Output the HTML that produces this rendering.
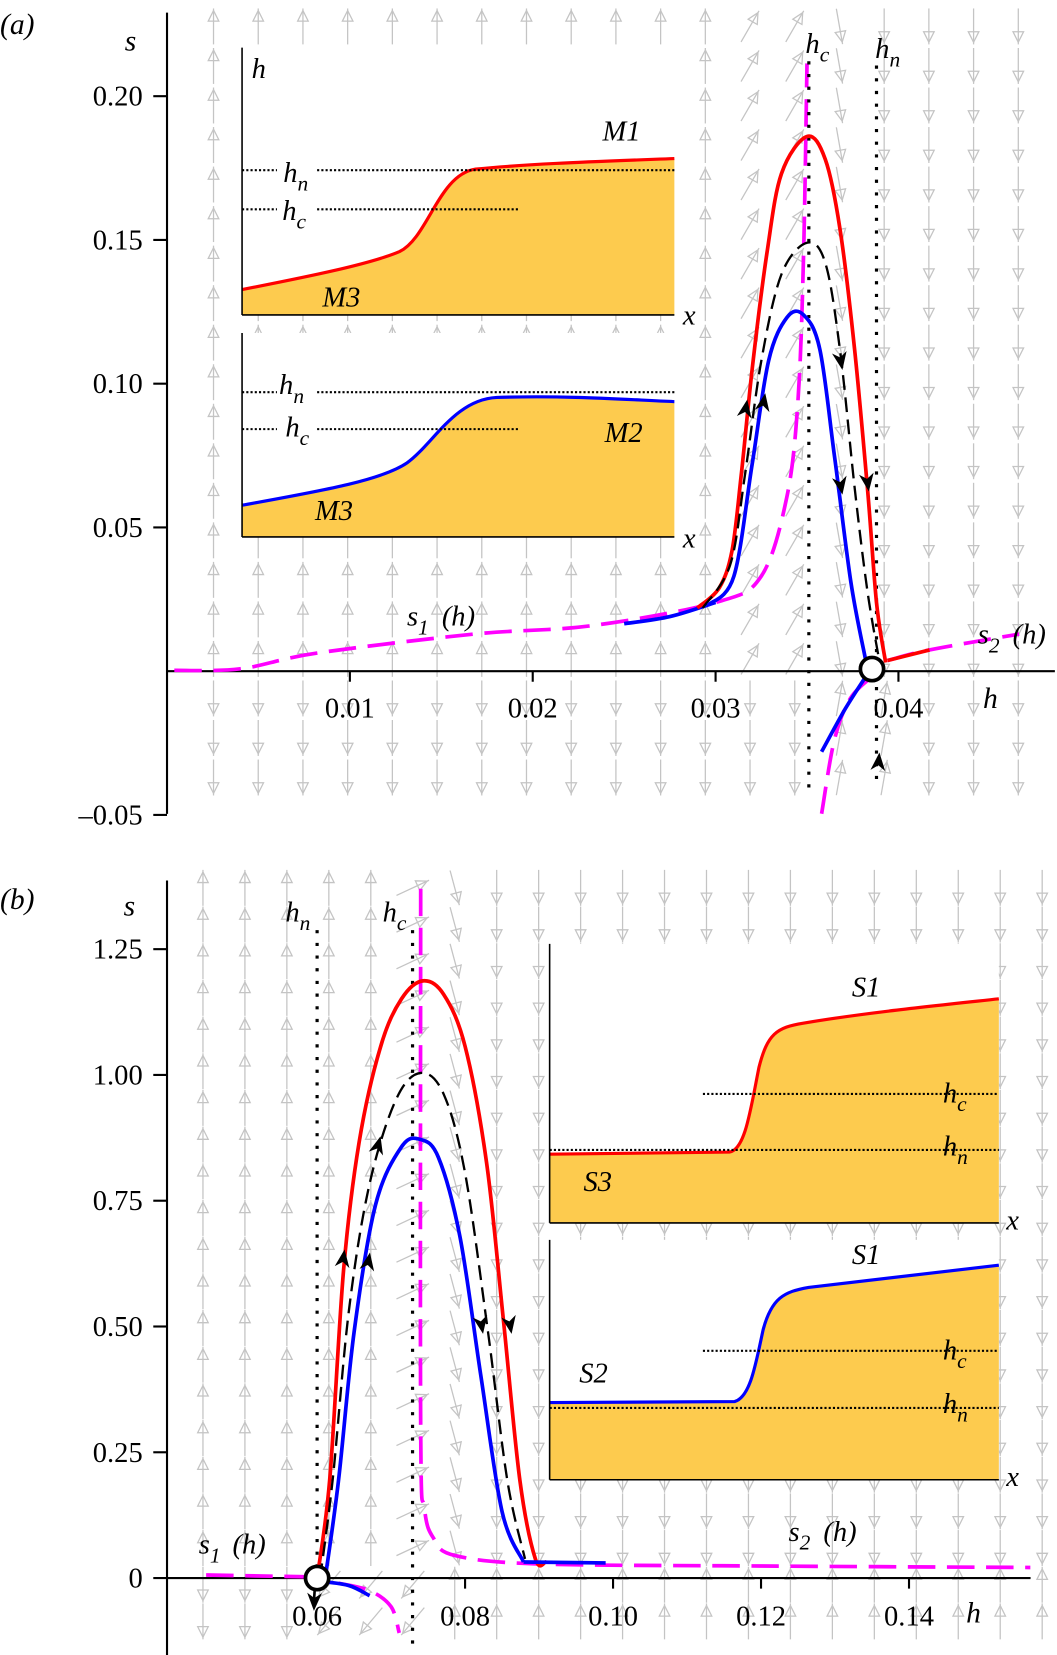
<!DOCTYPE html>
<html><head><meta charset="utf-8">
<style>
html,body{margin:0;padding:0;background:#fff;}
svg{display:block;}
text{font-family:"Liberation Serif","Times New Roman",serif;fill:#000;}
.it{font-style:italic;}
</style></head>
<body>
<svg id="fig" width="1057" height="1655" viewBox="0 0 1000 1565.8" xmlns="http://www.w3.org/2000/svg" font-family="Liberation Serif, serif">
<g id="fieldA"></g>
<g id="fieldB"></g>
<g id="main"></g>
</svg>
<script>
// ---------- Panel (a) data (h, s) ----------
const aRedH=[0.0290,0.0302,0.0309,0.0314,0.0320,0.0328,0.0336,0.0350,0.0360,0.0368,0.0376,0.0383,0.0388,0.0393];
const aRedS=[0.022,0.029,0.042,0.068,0.105,0.145,0.173,0.186,0.178,0.154,0.112,0.064,0.024,0.003];
const aBlkH=[0.0293,0.0308,0.0316,0.0325,0.0336,0.0350,0.0360,0.0368,0.0376,0.0383,0.0390];
const aBlkS=[0.022,0.037,0.068,0.108,0.138,0.149,0.142,0.112,0.064,0.028,0.002];
const aBluH=[0.0296,0.0310,0.0320,0.0329,0.0339,0.0348,0.0357,0.0365,0.0374,0.0382];
const aBluS=[0.023,0.033,0.072,0.108,0.123,0.124,0.112,0.075,0.031,0.004];
const aBluLowH=[0.0358,0.0371,0.0382];
const aBluLowS=[-0.028,-0.013,-0.002];
const aS1H=[0.0004,0.0040,0.0082,0.0168,0.0232,0.0300,0.0325,0.0339,0.0345,0.0348,0.0350];
const aS1S=[0.0003,0.0008,0.0063,0.0129,0.0158,0.0239,0.0331,0.0607,0.0938,0.1415,0.2114];
const aS1BluH=[0.0250,0.0275,0.0300];
const aS1BluS=[0.0165,0.0190,0.0239];
const aMagLowH=[0.0358,0.0365,0.0374,0.0388];
const aMagLowS=[-0.0496,-0.0239,-0.0092,-0.0007];
const aS2H=[0.0394,0.0417,0.0466];
const aS2S=[0.0037,0.0074,0.0129];
const aHc=0.0351, aHn=0.0388;
const aYTicks=[0.20,0.15,0.10,0.05,-0.05];
const aYLabels=["0.20","0.15","0.10","0.05","\u20130.05"];
const aXTicks=[0.01,0.02,0.03,0.04];
const aXLabels=["0.01","0.02","0.03","0.04"];
// ---------- Panel (b) data ----------
const bRedH=[0.0600,0.0617,0.0636,0.0657,0.0686,0.0714,0.0743,0.0771,0.0800,0.0829,0.0852,0.0874,0.0895,0.0909];
const bRedS=[0,0.195,0.616,0.868,1.057,1.151,1.187,1.160,1.057,0.826,0.510,0.195,0.038,0.032];
const bBlkH=[0.0604,0.0621,0.0643,0.0671,0.0707,0.0740,0.0771,0.0800,0.0831,0.0857,0.0881];
const bBlkS=[0,0.195,0.532,0.784,0.952,1.004,0.962,0.805,0.489,0.195,0.038];
const bBluH=[0.0611,0.0629,0.0650,0.0679,0.0714,0.0739,0.0764,0.0793,0.0821,0.0850,0.0879];
const bBluS=[0,0.195,0.489,0.742,0.857,0.872,0.836,0.679,0.405,0.132,0.032];
const bMagH=[0.0740,0.0740,0.0745,0.0757,0.0786,0.0900,0.1200,0.1564];
const bMagS=[1.37,0.30,0.14,0.08,0.045,0.028,0.024,0.021];
const bS1H=[0.0450,0.0600];
const bS1S=[0.006,0.002];
const bMagLowH=[0.0629,0.0671,0.0700,0.0711];
const bMagLowS=[-0.010,-0.025,-0.057,-0.109];
const bBluLowH=[0.0603,0.0643,0.0671];
const bBluLowS=[-0.006,-0.015,-0.035];
const bHc=0.0729, bHn=0.0600;
const bYTicks=[1.25,1.00,0.75,0.50,0.25,0];
const bYLabels=["1.25","1.00","0.75","0.50","0.25","0"];
const bXTicks=[0.06,0.08,0.10,0.12,0.14];
const bXLabels=["0.06","0.08","0.10","0.12","0.14"];

const NS="http://www.w3.org/2000/svg";
const main=document.getElementById('main');
const XA=h=>158+h*17300, YA=s=>635-s*2720;
const XB=h=>-120+h*7000, YB=s=>1493-s*476;

function mk(tag,attrs,parent){const e=document.createElementNS(NS,tag);for(const k in attrs)e.setAttribute(k,attrs[k]);(parent||main).appendChild(e);return e;}
function smooth(pts){
  if(pts.length<3){return 'M'+pts.map(p=>p[0].toFixed(1)+','+p[1].toFixed(1)).join(' L');}
  let d='M'+pts[0][0].toFixed(1)+','+pts[0][1].toFixed(1);
  for(let i=0;i<pts.length-1;i++){
    const p0=pts[Math.max(0,i-1)],p1=pts[i],p2=pts[i+1],p3=pts[Math.min(pts.length-1,i+2)];
    const c1=[p1[0]+(p2[0]-p0[0])/6,p1[1]+(p2[1]-p0[1])/6];
    const c2=[p2[0]-(p3[0]-p1[0])/6,p2[1]-(p3[1]-p1[1])/6];
    d+=' C'+c1[0].toFixed(1)+','+c1[1].toFixed(1)+' '+c2[0].toFixed(1)+','+c2[1].toFixed(1)+' '+p2[0].toFixed(1)+','+p2[1].toFixed(1);
  }
  return d;
}
function curve(hs,ss,X,Y,style,name){
  const pts=hs.map((h,i)=>[X(h),Y(ss[i])]);
  const e=mk('path',Object.assign({d:smooth(pts),fill:'none','stroke-linejoin':'round'},style));
  
  
  return e;
}
function txt(x,y,s,size,cls,anchor,name){
  const e=mk('text',{x:x,y:y,'font-size':size,'text-anchor':anchor||'start','font-family':'Liberation Serif, serif'});
  if(cls)e.setAttribute('class',cls);
  e.textContent=s;
  
  
  return e;
}
function sub(x,y,a,b,size,name){
  const e=mk('text',{x:x,y:y,'font-size':size,class:'it','font-family':'Liberation Serif, serif'});
  
  
  e.textContent=a;
  const t=mk('tspan',{dy:size*0.3,'font-size':size*0.75},e);t.textContent=b;
  return e;
}
function arrowHead(x,y,ang,name){
  const e=mk('path',{d:'M0,0 L-17,-7 L-12,0 L-17,7 Z',fill:'#000',transform:`translate(${x},${y}) rotate(${ang})`});
  
  
}
// ---------- vector field ----------
function fieldArrow(g,x,y,ang){
  const L=17;
  const a=ang*Math.PI/180, dx=Math.cos(a), dy=Math.sin(a);
  const x1=x-dx*L,y1=y-dy*L,x2=x+dx*L,y2=y+dy*L;
  mk('line',{x1:x1,y1:y1,x2:x2,y2:y2,stroke:'#c4c4c4','stroke-width':1.2},g);
  const tx=x+dx*10,ty=y+dy*10;
  mk('path',{d:'M5,0 L-5,-5 L-5,5 Z',fill:'none',stroke:'#c4c4c4','stroke-width':1.2,transform:`translate(${tx},${ty}) rotate(${ang})`},g);
}
const gA=document.getElementById('fieldA');
for(let c=0;c<19;c++){
  const x=202+c*42.3;
  for(let r=0;r<21;r++){
    const y=25+r*37.4; if(y>760)continue;
    const h=(x-158)/17300, s=(635-y)/2720;
    let ang;
    if(s>0){
      if(h<0.031) ang=-90;
      else if(h<0.0352) ang=-60;
      else if(h<0.037) ang=80;
      else ang=90;
    } else {
      if(h<0.0355) ang=90; else if(h<0.0395) ang=-80; else ang=90;
    }
    fieldArrow(gA,x,y,ang);
  }
}
const gB=document.getElementById('fieldB');
for(let c=0;c<21;c++){
  const x=192+c*39.7;
  for(let r=0;r<23;r++){
    const y=840+r*34.7; if(y>1565)continue;
    const h=(x+120)/7000, s=(1493-y)/476;
    let ang;
    if(s>0.02){
      if(h<0.069) ang=-90;
      else if(h<0.0745) ang=-25;
      else if(h<0.08) ang=75;
      else ang=90;
    } else {
      if(h<0.0605) ang=90; else if(h<0.0735) ang=130; else ang=-90;
    }
    fieldArrow(gB,x,y,ang);
  }
}
// ---------- Panel (a) ----------
mk('line',{x1:158,y1:12,x2:158,y2:770,stroke:'#000','stroke-width':2});
mk('line',{x1:158,y1:635,x2:998,y2:635,stroke:'#000','stroke-width':2});
aYTicks.forEach((v,i)=>{mk('line',{x1:145,y1:YA(v),x2:158,y2:YA(v),stroke:'#000','stroke-width':2});txt(135,YA(v)+9,aYLabels[i],27,'','end','y-tick-label-a');});
aXTicks.forEach((v,i)=>{mk('line',{x1:XA(v),y1:635,x2:XA(v),y2:645,stroke:'#000','stroke-width':2});txt(XA(v),679,aXLabels[i],27,'','middle','x-tick-label-a');});
txt(0,32,'(a)',28,'it','start','panel-a-label');
txt(118,48,'s',28,'it','start','y-axis-title-a');
txt(930,670,'h',28,'it','start','x-axis-title-a');
// insets (a)
mk('rect',{x:229,y:45,width:409,height:253,fill:'#fff'});
mk('rect',{x:229,y:315,width:409,height:193,fill:'#fff'});
const in1='M229,274 C290,262 350,250 378,238 C405,225 415,165 450,160 C500,155 560,153 638,150';
mk('path',{d:in1+' L638,298 L229,298 Z',fill:'#fdcb4e'});
mk('path',{d:in1,fill:'none',stroke:'#f00','stroke-width':3});
mk('line',{x1:229,y1:45,x2:229,y2:298,stroke:'#000','stroke-width':1.5});
mk('line',{x1:229,y1:298,x2:638,y2:298,stroke:'#000','stroke-width':1.5});
mk('line',{x1:229,y1:161,x2:262,y2:161,stroke:'#000','stroke-width':2,'stroke-dasharray':'2,2'});
mk('line',{x1:300,y1:161,x2:638,y2:161,stroke:'#000','stroke-width':2,'stroke-dasharray':'2,2'});
mk('line',{x1:229,y1:198,x2:262,y2:198,stroke:'#000','stroke-width':2,'stroke-dasharray':'2,2'});
mk('line',{x1:300,y1:198,x2:490,y2:198,stroke:'#000','stroke-width':2,'stroke-dasharray':'2,2'});
sub(268,172,'h','n',27,'inset1-hn-label');sub(267,208,'h','c',27,'inset1-hc-label');
txt(238,74,'h',27,'it','start','inset1-y-title');
txt(570,133,'M1',27,'it','start','inset1-m1-label');
txt(305,290,'M3',27,'it','start','inset1-m3-label');
txt(646,307,'x',27,'it','start','inset1-x-title');
const in2='M229,478 C300,465 360,455 385,438 C410,420 430,378 470,376 C540,374 590,378 638,380';
mk('path',{d:in2+' L638,508 L229,508 Z',fill:'#fdcb4e'});
mk('path',{d:in2,fill:'none',stroke:'#00f','stroke-width':3});
mk('line',{x1:229,y1:315,x2:229,y2:508,stroke:'#000','stroke-width':1.5});
mk('line',{x1:229,y1:508,x2:638,y2:508,stroke:'#000','stroke-width':1.5});
mk('line',{x1:229,y1:371,x2:262,y2:371,stroke:'#000','stroke-width':2,'stroke-dasharray':'2,2'});
mk('line',{x1:300,y1:371,x2:638,y2:371,stroke:'#000','stroke-width':2,'stroke-dasharray':'2,2'});
mk('line',{x1:229,y1:406,x2:262,y2:406,stroke:'#000','stroke-width':2,'stroke-dasharray':'2,2'});
mk('line',{x1:300,y1:406,x2:490,y2:406,stroke:'#000','stroke-width':2,'stroke-dasharray':'2,2'});
sub(264,373,'h','n',27,'inset2-hn-label');sub(270,413,'h','c',27,'inset2-hc-label');
txt(572,418,'M2',27,'it','start','inset2-m2-label');
txt(298,492,'M3',27,'it','start','inset2-m3-label');
txt(646,518,'x',27,'it','start','inset2-x-title');
// curves (a)
const mag={stroke:'#f0f','stroke-width':3.5,'stroke-dasharray':'26,11'};
curve(aS1H,aS1S,XA,YA,mag,'s1-nullcline-a');
curve(aMagLowH,aMagLowS,XA,YA,mag,'s-nullcline-lower-a');
curve(aS2H,aS2S,XA,YA,mag,'s2-nullcline-a');
curve(aS1BluH,aS1BluS,XA,YA,{stroke:'#00f','stroke-width':3.5},'s1-blue-overlay-a');
mk('line',{x1:XA(aHc),y1:58,x2:XA(aHc),y2:745,stroke:'#000','stroke-width':3,'stroke-dasharray':'3,9'});
mk('line',{x1:XA(aHn),y1:62,x2:XA(aHn),y2:745,stroke:'#000','stroke-width':3,'stroke-dasharray':'3,9'});
curve(aRedH,aRedS,XA,YA,{stroke:'#f00','stroke-width':3.5},'red-trajectory-a');
curve(aBlkH,aBlkS,XA,YA,{stroke:'#000','stroke-width':2.2,'stroke-dasharray':'14,7'},'black-dashed-trajectory-a');
curve(aBluH,aBluS,XA,YA,{stroke:'#00f','stroke-width':3.5},'blue-trajectory-a');
curve(aBluLowH,aBluLowS,XA,YA,{stroke:'#00f','stroke-width':3.5},'blue-lower-branch-a');
curve([0.0394,0.0417],[0.0037,0.0074],XA,YA,{stroke:'#f00','stroke-width':3.5},'s2-red-overlay-a');
sub(762,50,'h','c',27,'hc-label-a');sub(828,55,'h','n',27,'hn-label-a');
sub(385,592,'s','1',27,'s1-label-a');txt(418,592,'(h)',27,'it','start','s1-label-h-a');
sub(925,609,'s','2',27,'s2-label-a');txt(958,609,'(h)',27,'it','start','s2-label-h-a');
arrowHead(707,378,-80,'arrow-red-up-a');arrowHead(724,372,-80,'arrow-black-up-a');
arrowHead(797,350,80,'arrow-black-down-a');arrowHead(797,468,80,'arrow-blue-down-a');
arrowHead(822,465,82,'arrow-red-down-a');arrowHead(832,712,-85,'arrow-bottom-up-a');
mk('circle',{cx:825,cy:633,r:11,fill:'#fff',stroke:'#000','stroke-width':3.5,});
// ---------- Panel (b) ----------
mk('line',{x1:158,y1:833,x2:158,y2:1566,stroke:'#000','stroke-width':2});
mk('line',{x1:158,y1:1493,x2:975,y2:1493,stroke:'#000','stroke-width':2});
bYTicks.forEach((v,i)=>{mk('line',{x1:145,y1:YB(v),x2:158,y2:YB(v),stroke:'#000','stroke-width':2});txt(135,YB(v)+9,bYLabels[i],27,'','end','y-tick-label-b');});
bXTicks.forEach((v,i)=>{mk('line',{x1:XB(v),y1:1493,x2:XB(v),y2:1503,stroke:'#000','stroke-width':2});txt(XB(v),1538,bXLabels[i],27,'','middle','x-tick-label-b');});
txt(0,860,'(b)',28,'it','start','panel-b-label');
txt(117,866,'s',28,'it','start','y-axis-title-b');
txt(914,1535,'h',28,'it','start','x-axis-title-b');
// insets (b)
mk('rect',{x:520,y:893,width:425,height:264,fill:'#fff'});
mk('rect',{x:520,y:1173,width:425,height:227,fill:'#fff'});
const in3='M520,1092 L690,1090 C705,1088 710,1050 718,1010 C726,978 735,972 760,968 C820,958 880,952 945,945';
mk('path',{d:in3+' L945,1157 L520,1157 Z',fill:'#fdcb4e'});
mk('path',{d:in3,fill:'none',stroke:'#f00','stroke-width':3});
mk('line',{x1:520,y1:893,x2:520,y2:1157,stroke:'#000','stroke-width':1.5});
mk('line',{x1:520,y1:1157,x2:945,y2:1157,stroke:'#000','stroke-width':1.5});
mk('line',{x1:665,y1:1035,x2:945,y2:1035,stroke:'#000','stroke-width':2,'stroke-dasharray':'2,2'});
mk('line',{x1:520,y1:1088,x2:945,y2:1088,stroke:'#000','stroke-width':2,'stroke-dasharray':'2,2'});
sub(892,1043,'h','c',27,'inset3-hc-label');sub(892,1093,'h','n',27,'inset3-hn-label');
txt(806,943,'S1',27,'it','start','inset3-s1-label');
txt(552,1127,'S3',27,'it','start','inset3-s3-label');
txt(952,1163,'x',27,'it','start','inset3-x-title');
const in4='M520,1327 L695,1326 C710,1322 715,1290 722,1258 C730,1228 742,1222 765,1218 C830,1210 890,1203 945,1197';
mk('path',{d:in4+' L945,1400 L520,1400 Z',fill:'#fdcb4e'});
mk('path',{d:in4,fill:'none',stroke:'#00f','stroke-width':3});
mk('line',{x1:520,y1:1173,x2:520,y2:1400,stroke:'#000','stroke-width':1.5});
mk('line',{x1:520,y1:1400,x2:945,y2:1400,stroke:'#000','stroke-width':1.5});
mk('line',{x1:665,y1:1278,x2:945,y2:1278,stroke:'#000','stroke-width':2,'stroke-dasharray':'2,2'});
mk('line',{x1:520,y1:1332,x2:945,y2:1332,stroke:'#000','stroke-width':2,'stroke-dasharray':'2,2'});
sub(892,1286,'h','c',27,'inset4-hc-label');sub(892,1337,'h','n',27,'inset4-hn-label');
txt(806,1196,'S1',27,'it','start','inset4-s1-label');
txt(548,1308,'S2',27,'it','start','inset4-s2-label');
txt(952,1406,'x',27,'it','start','inset4-x-title');
// curves (b)
mk('line',{x1:XB(bHn),y1:880,x2:XB(bHn),y2:1493,stroke:'#000','stroke-width':3,'stroke-dasharray':'3,9'});
mk('line',{x1:XB(bHc),y1:880,x2:XB(bHc),y2:1560,stroke:'#000','stroke-width':3,'stroke-dasharray':'3,9'});
curve(bMagH,bMagS,XB,YB,mag,'s-nullcline-b');
curve(bS1H,bS1S,XB,YB,mag,'s1-nullcline-b');
curve(bMagLowH,bMagLowS,XB,YB,mag,'s-nullcline-lower-b');
curve(bBluLowH,bBluLowS,XB,YB,{stroke:'#00f','stroke-width':3.5},'blue-lower-branch-b');
curve(bRedH,bRedS,XB,YB,{stroke:'#f00','stroke-width':3.5},'red-trajectory-b');
curve(bBlkH,bBlkS,XB,YB,{stroke:'#000','stroke-width':2.2,'stroke-dasharray':'14,7'},'black-dashed-trajectory-b');
curve(bBluH,bBluS,XB,YB,{stroke:'#00f','stroke-width':3.5},'blue-trajectory-b');
curve([0.0879,0.0990],[0.032,0.030],XB,YB,{stroke:'#00f','stroke-width':3.5},'s2-blue-overlay-b');
sub(270,872,'h','n',27,'hn-label-b');sub(362,872,'h','c',27,'hc-label-b');
sub(188,1470,'s','1',27,'s1-label-b');txt(220,1470,'(h)',27,'it','start','s1-label-h-b');
sub(746,1458,'s','2',27,'s2-label-b');txt(779,1458,'(h)',27,'it','start','s2-label-h-b');
arrowHead(326,1182,-82,'arrow-red-up-b');arrowHead(350,1185,-80,'arrow-blue-up-b');arrowHead(360,1075,-75,'arrow-black-up-b');
arrowHead(457,1262,80,'arrow-blue-down-b');arrowHead(484,1262,80,'arrow-red-down-b');
arrowHead(297,1524,92,'arrow-bottom-down-b');
mk('line',{x1:298,y1:1500,x2:297,y2:1515,stroke:'#000','stroke-width':2.5});
mk('circle',{cx:300,cy:1493,r:11,fill:'#fff',stroke:'#000','stroke-width':3.5,});
</script>
</body></html>
